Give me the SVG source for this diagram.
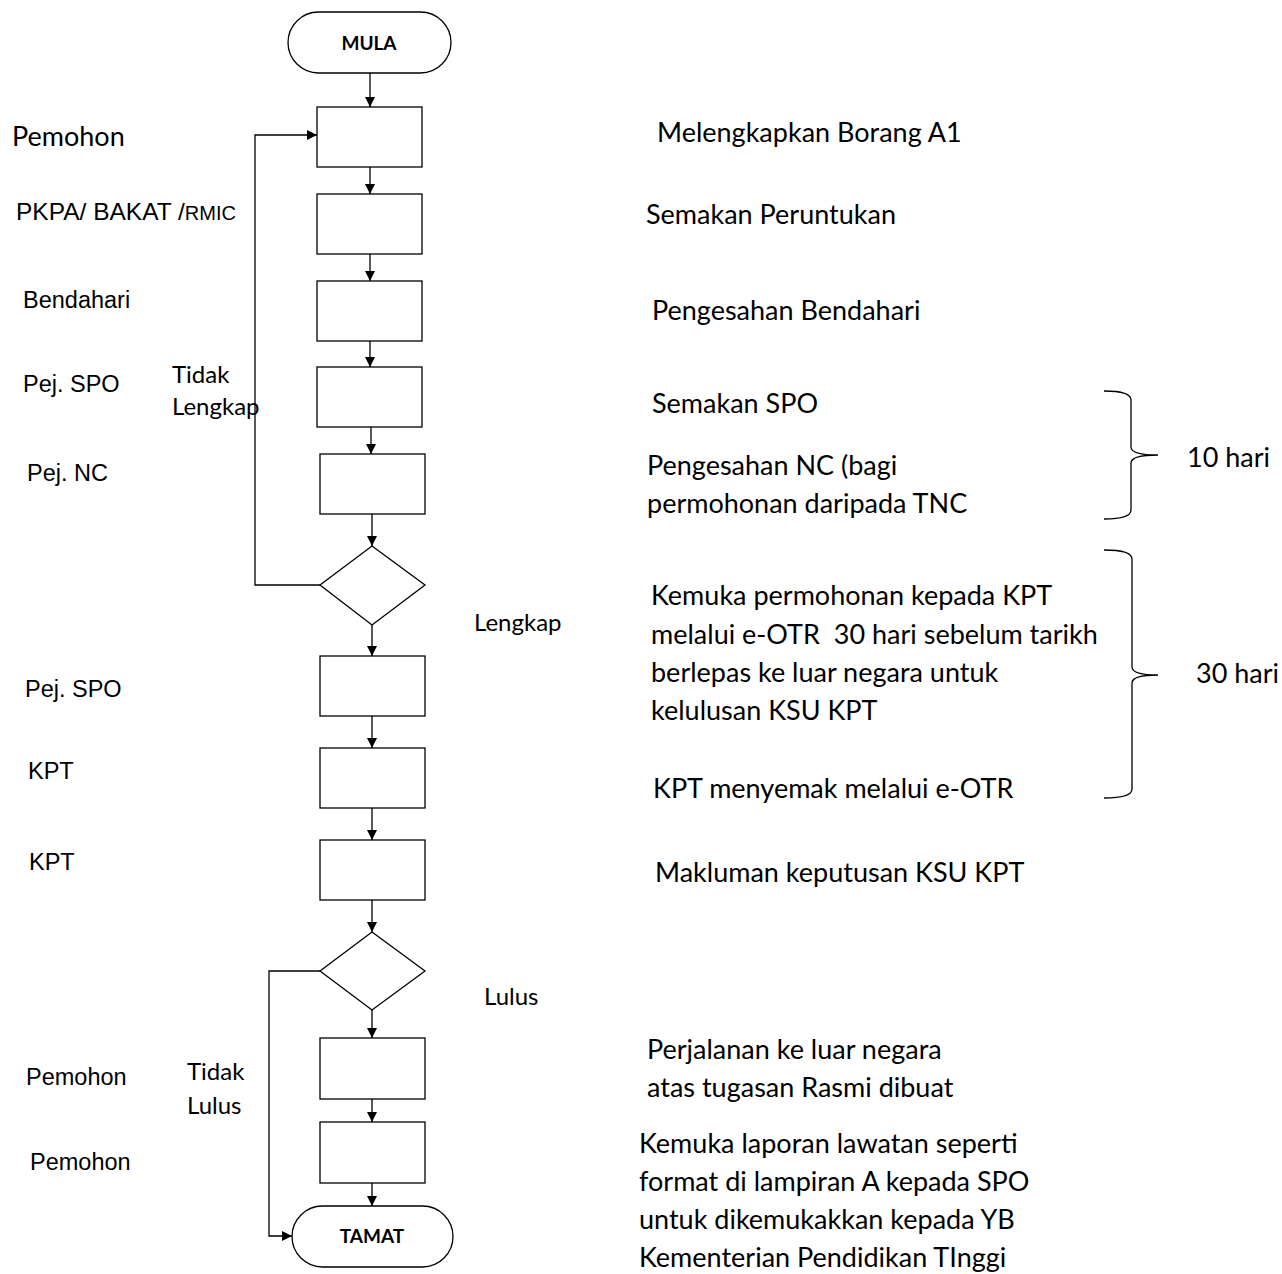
<svg xmlns="http://www.w3.org/2000/svg" width="1282" height="1274" viewBox="0 0 1282 1274">
<style>
.shape{fill:#ffffff;stroke:#000000;stroke-width:1.3}
.conn{fill:none;stroke:#000000;stroke-width:1.3}
.brace{fill:none;stroke:#000000;stroke-width:1.3}
.cal{font-family:Lato,"Open Sans",sans-serif;font-size:27px;fill:#000000}
.cal2{font-family:Lato,"Open Sans",sans-serif;font-size:24px;fill:#000000}
.ari{font-family:"Liberation Sans",Arial,sans-serif;font-size:23.5px;fill:#000000}
.ari-big{font-family:"Liberation Sans",Arial,sans-serif;font-size:24.5px;fill:#000000}
.ari-small{font-size:20px}
.term{font-family:Lato,"Open Sans",sans-serif;font-size:19px;font-weight:bold;fill:#000000;text-anchor:middle}
</style>
<defs>
<marker id="arr" viewBox="0 0 10 10" refX="10" refY="5" markerWidth="10" markerHeight="10" markerUnits="userSpaceOnUse" orient="auto">
<path d="M0,0 L10,5 L0,10 Z" fill="#000000"/>
</marker>
</defs>
<rect width="1282" height="1274" fill="#ffffff"/>

<g id="connectors">
<line class="conn" x1="370" y1="73" x2="370" y2="107" marker-end="url(#arr)"/>
<line class="conn" x1="370" y1="167" x2="370" y2="194" marker-end="url(#arr)"/>
<line class="conn" x1="370" y1="254" x2="370" y2="281" marker-end="url(#arr)"/>
<line class="conn" x1="370" y1="341" x2="370" y2="367" marker-end="url(#arr)"/>
<line class="conn" x1="371" y1="427" x2="371" y2="454" marker-end="url(#arr)"/>
<line class="conn" x1="372" y1="514" x2="372" y2="546" marker-end="url(#arr)"/>
<line class="conn" x1="372" y1="625" x2="372" y2="656" marker-end="url(#arr)"/>
<line class="conn" x1="372" y1="716" x2="372" y2="748" marker-end="url(#arr)"/>
<line class="conn" x1="372" y1="808" x2="372" y2="840" marker-end="url(#arr)"/>
<line class="conn" x1="372" y1="900" x2="372" y2="932" marker-end="url(#arr)"/>
<line class="conn" x1="372" y1="1010" x2="372" y2="1038" marker-end="url(#arr)"/>
<line class="conn" x1="372" y1="1099" x2="372" y2="1122" marker-end="url(#arr)"/>
<line class="conn" x1="372" y1="1183" x2="372" y2="1206" marker-end="url(#arr)"/>
<path class="conn" d="M320,585 H255 V135 H317" marker-end="url(#arr)"/>
<path class="conn" d="M320,971 H269 V1236 H292" marker-end="url(#arr)"/>
</g>

<g id="n-mula">
<rect class="shape" x="288" y="12" width="163" height="61" rx="30.5" ry="30.5"/>
<text class="term" x="369" y="50">MULA</text>
</g>
<g id="n-borang"><rect class="shape" x="317" y="107" width="105" height="60"/></g>
<g id="n-peruntukan"><rect class="shape" x="317" y="194" width="105" height="60"/></g>
<g id="n-bendahari"><rect class="shape" x="317" y="281" width="105" height="60"/></g>
<g id="n-spo"><rect class="shape" x="317" y="367" width="105" height="60"/></g>
<g id="n-nc"><rect class="shape" x="320" y="454" width="105" height="60"/></g>
<g id="n-lengkap"><polygon class="shape" points="372,546 425,585 372,625 320,585"/></g>
<g id="n-kemuka"><rect class="shape" x="320" y="656" width="105" height="60"/></g>
<g id="n-menyemak"><rect class="shape" x="320" y="748" width="105" height="60"/></g>
<g id="n-makluman"><rect class="shape" x="320" y="840" width="105" height="60"/></g>
<g id="n-lulus"><polygon class="shape" points="372,932 425,971 372,1010 320,971"/></g>
<g id="n-perjalanan"><rect class="shape" x="320" y="1038" width="105" height="61"/></g>
<g id="n-laporan"><rect class="shape" x="320" y="1122" width="105" height="61"/></g>
<g id="n-tamat">
<rect class="shape" x="292" y="1206" width="161" height="61" rx="30.5" ry="30.5"/>
<text class="term" x="372" y="1243">TAMAT</text>
</g>

<g id="braces">
<path class="brace" d="M1104,391 Q1131,391 1131,400 V447 Q1131,455 1158,455 Q1131,455 1131,463 V510 Q1131,519 1104,519"/>
<path class="brace" d="M1104,550 Q1132,550 1132,559 V667 Q1132,675 1158,675 Q1132,675 1132,683 V789 Q1132,798 1104,798"/>
</g>

<g id="labels-left">
<text class="cal" x="12" y="146">Pemohon</text>
<text class="ari-big" x="16" y="220">PKPA/ BAKAT /<tspan class="ari-small">RMIC</tspan></text>
<text class="ari" x="23" y="308">Bendahari</text>
<text class="ari" x="23" y="392">Pej. SPO</text>
<text class="ari" x="27" y="481">Pej. NC</text>
<text class="ari" x="25" y="697">Pej. SPO</text>
<text class="ari" x="28" y="779">KPT</text>
<text class="ari" x="29" y="870">KPT</text>
<text class="ari" x="26" y="1085">Pemohon</text>
<text class="ari" x="30" y="1170">Pemohon</text>
<text class="cal2" x="172" y="383">Tidak</text>
<text class="cal2" x="172" y="415">Lengkap</text>
<text class="cal2" x="187" y="1080">Tidak</text>
<text class="cal2" x="187" y="1114">Lulus</text>
<text class="cal2" x="474" y="631">Lengkap</text>
<text class="cal2" x="484" y="1005">Lulus</text>
</g>

<g id="labels-right">
<text class="cal" x="657" y="142">Melengkapkan Borang A1</text>
<text class="cal" x="646" y="224">Semakan Peruntukan</text>
<text class="cal" x="652" y="320">Pengesahan Bendahari</text>
<text class="cal" x="652" y="413">Semakan SPO</text>
<text class="cal" x="647" y="475">Pengesahan NC (bagi</text>
<text class="cal" x="647" y="513">permohonan daripada TNC</text>
<text class="cal" x="651" y="605">Kemuka permohonan kepada KPT</text>
<text class="cal" x="651" y="644" xml:space="preserve">melalui e-OTR  30 hari sebelum tarikh</text>
<text class="cal" x="651" y="682">berlepas ke luar negara untuk</text>
<text class="cal" x="651" y="720">kelulusan KSU KPT</text>
<text class="cal" x="653" y="798">KPT menyemak melalui e-OTR</text>
<text class="cal" x="655" y="882">Makluman keputusan KSU KPT</text>
<text class="cal" x="647" y="1059">Perjalanan ke luar negara</text>
<text class="cal" x="647" y="1097">atas tugasan Rasmi dibuat</text>
<text class="cal" x="639" y="1153">Kemuka laporan lawatan seperti</text>
<text class="cal" x="639" y="1191">format di lampiran A kepada SPO</text>
<text class="cal" x="639" y="1229">untuk dikemukakkan kepada YB</text>
<text class="cal" x="639" y="1267">Kementerian Pendidikan TInggi</text>
<text class="cal" x="1187" y="467">10 hari</text>
<text class="cal" x="1196" y="683">30 hari</text>
</g>
</svg>
